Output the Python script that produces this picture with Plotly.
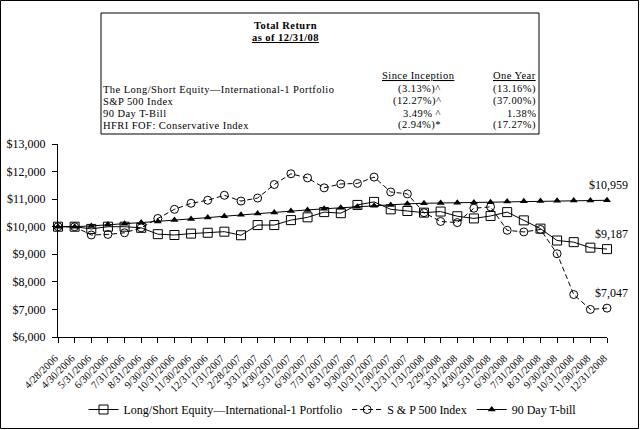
import plotly.graph_objects as go

dates = ["4/28/2006", "4/30/2006", "5/31/2006", "6/30/2006", "7/31/2006", "8/31/2006",
         "9/30/2006", "10/31/2006", "11/30/2006", "12/31/2006", "1/31/2007", "2/28/2007",
         "3/31/2007", "4/30/2007", "5/31/2007", "6/30/2007", "7/31/2007", "8/31/2007",
         "9/30/2007", "10/31/2007", "11/30/2007", "12/31/2007", "1/31/2008", "2/29/2008",
         "3/31/2008", "4/30/2008", "5/31/2008", "6/30/2008", "7/31/2008", "8/31/2008",
         "9/30/2008", "10/31/2008", "11/30/2008", "12/31/2008"]

long_short = [10000, 10000, 9920, 10000, 10000, 9960, 9730, 9700, 9750, 9780, 9820, 9690,
              10060, 10060, 10240, 10340, 10530, 10490, 10790, 10900, 10630, 10570, 10510, 10550,
              10380, 10300, 10390, 10530, 10230, 9930, 9500, 9440, 9240, 9187]

sp500 = [10000, 10000, 9700, 9720, 9780, 9960, 10300, 10630, 10850, 10960, 11140, 10930,
         11040, 11530, 11920, 11770, 11410, 11550, 11570, 11800, 11260, 11190, 10510, 10190,
         10150, 10670, 10720, 9870, 9810, 9900, 9020, 7540, 7000, 7047]

tbill = [10000, 10000, 10030, 10080, 10110, 10150, 10190, 10240, 10280, 10330, 10380, 10430,
         10480, 10520, 10570, 10610, 10650, 10690, 10720, 10760, 10790, 10830, 10850, 10860,
         10870, 10880, 10890, 10910, 10920, 10930, 10940, 10950, 10955, 10959]

y_ticks = [6000, 7000, 8000, 9000, 10000, 11000, 12000, 13000]
y_tick_labels = ["$6,000", "$7,000", "$8,000", "$9,000", "$10,000", "$11,000", "$12,000", "$13,000"]

table_rows = ["The Long/Short Equity\u2014International-1 Portfolio", "S&P 500 Index",
              "90 Day T-Bill", "HFRI FOF: Conservative Index"]
since_inception = ["(3.13%)^", "(12.27%)^", "3.49% ^", "(2.94%)*"]
one_year = ["(13.16%)", "(37.00%)", "1.38%", "(17.27%)"]

FONT = "Liberation Serif, Times New Roman, serif"
W, H = 640, 430
PL, PR, PT, PB = 58, 607, 144, 337


def px(x):
    return (x - PL) / (PR - PL)


def py(y):
    return (PB - y) / (PB - PT)


def spaced(s):
    return f"<span style='letter-spacing:0.45px'>{s}</span>"


fig = go.Figure()
fig.add_trace(go.Scatter(
    x=dates, y=long_short, name="Long/Short Equity\u2014International-1 Portfolio",
    mode="lines+markers", line=dict(color="black", width=1),
    marker=dict(symbol="square-open", size=9, color="black", line=dict(width=1)),
    cliponaxis=False))
fig.add_trace(go.Scatter(
    x=dates, y=sp500, name="S & P 500 Index",
    mode="lines+markers", line=dict(color="black", width=1, dash="5px,3px"),
    marker=dict(symbol="circle-open", size=8, color="black", line=dict(width=1)),
    cliponaxis=False))
fig.add_trace(go.Scatter(
    x=dates, y=tbill, name="90 Day T-bill",
    mode="lines+markers", line=dict(color="black", width=1),
    marker=dict(symbol="triangle-up", size=7, color="black"),
    cliponaxis=False))

annotations = []
# end labels
for series in (tbill, long_short, sp500):
    v = series[-1]
    annotations.append(dict(x=dates[-1], y=v, xref="x", yref="y", text=f"${v:,}",
                            showarrow=False, xanchor="right", yanchor="middle",
                            xshift=23, yshift=15, font=dict(family=FONT, size=12, color="black")))

tf = dict(family=FONT, size=10.5, color="black")
common = dict(xref="paper", yref="paper", showarrow=False, yanchor="middle", font=tf, borderpad=0)
annotations.append(dict(x=px(285), y=py(25), text=spaced("<b>Total Return</b>"), xanchor="center", **common))
annotations.append(dict(x=px(285), y=py(37), text=spaced("<b><u>as of 12/31/08</u></b>"), xanchor="center", **common))
annotations.append(dict(x=px(418), y=py(75), text=spaced("<u>Since Inception</u>"), xanchor="center", **common))
annotations.append(dict(x=px(514), y=py(75), text=spaced("<u>One Year</u>"), xanchor="center", **common))
row_y = [89, 101, 113, 125]
for lab, si, oy, yy in zip(table_rows, since_inception, one_year, row_y):
    annotations.append(dict(x=px(102), y=py(yy), text=spaced(lab), xanchor="left", **common))
    annotations.append(dict(x=px(442), y=py(yy), text=spaced(si), xanchor="right", **common))
    annotations.append(dict(x=px(537), y=py(yy), text=spaced(oy), xanchor="right", **common))

shapes = [
    dict(type="rect", xref="paper", yref="paper", x0=px(101), x1=px(539), y0=py(134), y1=py(13),
         line=dict(color="black", width=1), fillcolor="rgba(0,0,0,0)"),
    dict(type="rect", xref="paper", yref="paper", x0=px(0.5), x1=px(638.5), y0=py(428.5), y1=py(0.5),
         line=dict(color="black", width=1), fillcolor="rgba(0,0,0,0)"),
]

fig.update_layout(
    width=W, height=H,
    margin=dict(l=PL, r=W - PR, t=PT, b=H - PB, pad=0, autoexpand=False),
    paper_bgcolor="white", plot_bgcolor="white",
    font=dict(family=FONT, size=12, color="black"),
    showlegend=True,
    legend=dict(orientation="h", x=0.5, xanchor="center", y=py(409.5), yanchor="middle",
                font=dict(family=FONT, size=12, color="black"), bgcolor="rgba(0,0,0,0)",
                itemwidth=30, tracegroupgap=0),
    annotations=annotations,
    shapes=shapes,
    xaxis=dict(type="category", range=[0, len(dates) - 1], showgrid=False, zeroline=False,
               showline=True, linecolor="black", linewidth=1,
               ticks="outside", ticklen=5, tickcolor="black", tickwidth=1,
               tickangle=-45, tickfont=dict(family=FONT, size=10.5, color="black"),
               ticklabelstandoff=5, ticklabelshift=-3,
               automargin=False),
    yaxis=dict(range=[6000, 13000], tickvals=y_ticks, ticktext=y_tick_labels,
               showgrid=False, zeroline=False, showline=True, linecolor="black", linewidth=1,
               ticks="outside", ticklen=5, tickcolor="black", tickwidth=1,
               ticklabelstandoff=4,
               tickfont=dict(family=FONT, size=12, color="black"), automargin=False),
)

fig.write_html("out.html", config={"displayModeBar": False},
               post_script="document.body.style.margin='0';document.body.style.overflow='hidden';")
